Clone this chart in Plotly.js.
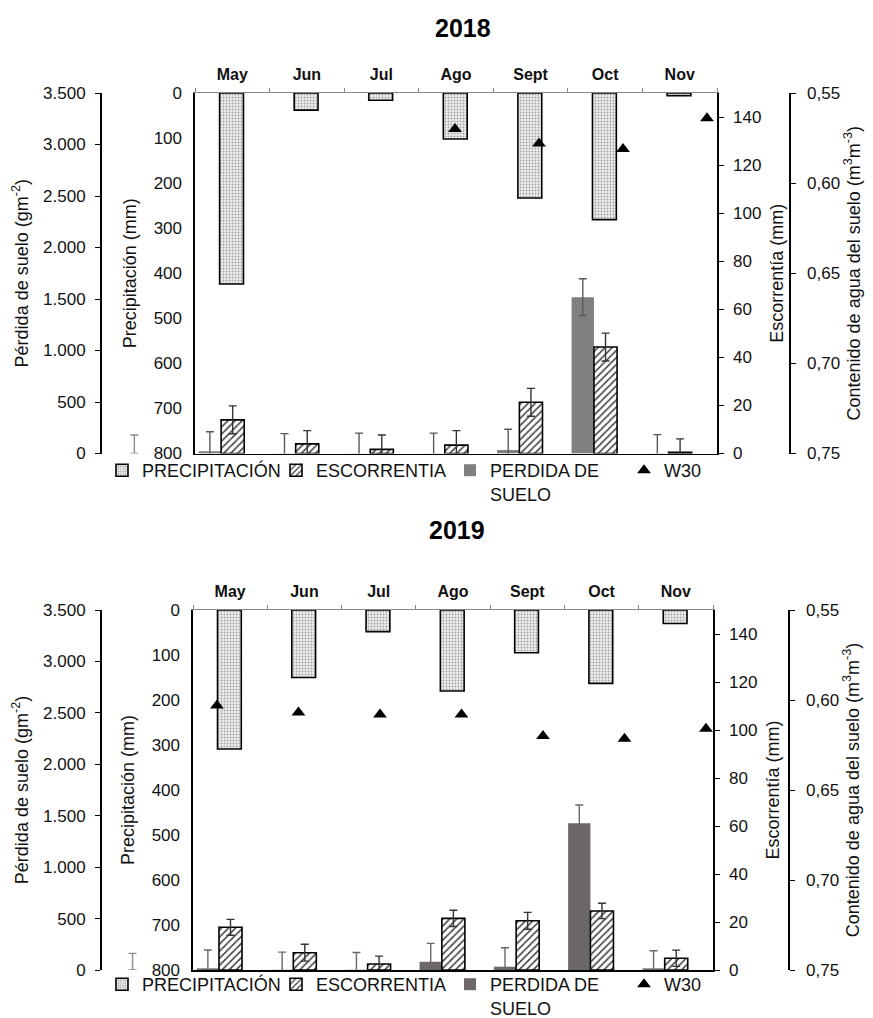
<!DOCTYPE html>
<html><head><meta charset="utf-8">
<script src="https://cdn.plot.ly/plotly-3.0.1.min.js"></script>
<style>html,body{margin:0;padding:0;background:#fff}#chart{width:873px;height:1018px}</style>
</head><body><div id="chart"></div>
<script>
// ---------- DATA ----------
const months = ['May', 'Jun', 'Jul', 'Ago', 'Sept', 'Oct', 'Nov'];
const monthIdx = [0, 1, 2, 3, 4, 5, 6];

// 2018
const precip2018 = [424, 38, 16, 102, 233, 281, 6];          // mm
const runoff2018 = [14.0, 4.0, 1.7, 3.5, 21.3, 44.3, 0.5];   // mm
const runoffErr2018 = [5.8, 5.5, 6.0, 6.0, 5.8, 5.8, 5.6];
const soilLoss2018 = [21, 3, 2, 2, 34, 1518, 3];            // g m-2
const soilLossErr2018 = [190, 190, 196, 196, 201, 178, 180];
const w30_2018 = [null, null, null, 0.570, 0.578, 0.581, 0.564];
const strayErr2018 = 180;   // lone soil-loss error bar one category before May

// 2019
const precip2019 = [309, 150, 48, 180, 95, 163, 30];
const runoff2019 = [17.8, 7.2, 2.5, 21.5, 20.5, 24.6, 4.9];
const runoffErr2019 = [3.3, 3.5, 3.3, 3.4, 3.5, 3.2, 3.4];
const soilLoss2019 = [16, 2, 2, 80, 32, 1426, 16];
const soilLossErr2019 = [178, 172, 168, 179, 185, 178, 171];
const w30_2019 = [0.603, 0.607, 0.608, 0.608, 0.620, 0.6215, 0.616];
const strayErr2019 = 162;

const names = ['PRECIPITACIÓN', 'ESCORRENTIA', 'PERDIDA DE<br>SUELO', 'W30'];

// ---------- STYLE / LAYOUT HELPERS ----------
const W = 873, H = 1018;
const px = v => v / W, py = v => 1 - v / H;
const FONT = 'Liberation Sans, Arial, sans-serif';
const BAR = {precipOff: -0.17, precipW: 0.32, runOff: -0.15, runW: 0.31, lossOff: -0.45, lossW: 0.30};

const cfgs = [
  {year: '2018', top: 93, bottom: 453.5, left: 195, right: 717, lossX: 100, waterX: 789,
   w30Range: [-0.095, 6.119], legendY: 452, titleY: 28, titleX: 463, lossColor: '#808080', lossErrColor: '#5a5a5a',
   precip: precip2018, runoff: runoff2018, runoffErr: runoffErr2018, loss: soilLoss2018,
   lossErr: soilLossErr2018, w30: w30_2018, stray: strayErr2018},
  {year: '2019', top: 610, bottom: 970, left: 193, right: 713, lossX: 100, waterX: 788,
   w30Range: [-0.294, 6.086], legendY: 966, titleY: 530, titleX: 457, lossColor: '#6e6769', lossErrColor: '#6e6769',
   precip: precip2019, runoff: runoff2019, runoffErr: runoffErr2019, loss: soilLoss2019,
   lossErr: soilLossErr2019, w30: w30_2019, stray: strayErr2019}
];

const data = [];
const layout = {
  width: W, height: H,
  margin: {l: 0, r: 0, t: 0, b: 0, autoexpand: false},
  paper_bgcolor: '#fff', plot_bgcolor: 'rgba(0,0,0,0)',
  separators: ',.',
  font: {family: FONT, size: 17, color: '#111'},
  showlegend: true,
  annotations: []
};

cfgs.forEach((c, k) => {
  const n = k * 2;
  const m = k * 4;
  const xa = 'x' + (n === 0 ? '' : n + 1), xb = 'x' + (n + 2);
  const ya = 'y' + (m === 0 ? '' : m + 1), yb = 'y' + (m + 2), yc = 'y' + (m + 3), yd = 'y' + (m + 4);
  const xs = 'x' + (5 + k), ys = 'y' + (9 + k);   // strip left of the frame (stray error bar)
  const axKey = s => s.replace('x', 'xaxis').replace('y', 'yaxis');
  const legendName = k === 0 ? 'legend' : 'legend2';
  const xDom = [px(c.left), px(c.right)];
  const yDom = [py(c.bottom), py(c.top)];
  const catW = (c.right - c.left) / 7;   // px per category

  layout[axKey(xa)] = {
    domain: xDom, anchor: ya, side: 'top', range: [-0.5, 6.5], type: 'linear',
    tickmode: 'array', tickvals: monthIdx, ticktext: months, ticks: '',
    tickfont: {size: 16, family: FONT, color: '#111', weight: 'bold'},
    ticklabelstandoff: 6,
    minor: {tick0: -0.5, dtick: 1, ticks: 'outside', ticklen: 4, tickcolor: '#888', tickwidth: 1},
    showline: true, linecolor: '#888', linewidth: 1, showgrid: false, zeroline: false
  };
  layout[axKey(xb)] = {
    overlaying: xa, anchor: ya, side: 'bottom', range: c.w30Range, type: 'linear',
    showticklabels: false, ticks: '', showline: true, linecolor: '#000', linewidth: 1.6,
    showgrid: false, zeroline: false
  };
  // same category scale continued to the left of the frame
  layout[axKey(xs)] = {
    domain: [px(c.lossX + 2), px(c.left - 1)], anchor: ys, type: 'linear',
    range: [-0.5 - (c.left - 1 - c.lossX - 2) / catW, -0.5], visible: false
  };
  layout[axKey(ys)] = {
    domain: yDom, anchor: xs, range: [0, 3500], visible: false
  };
  layout[axKey(ya)] = {
    domain: yDom, anchor: xa, side: 'left', range: [800, 0], dtick: 100, tick0: 0,
    ticks: '', ticklabelstandoff: 8, showline: true, linecolor: '#000', linewidth: 1.6,
    showgrid: false, zeroline: false, tickfont: {size: 17},
    title: {text: 'Precipitación (mm)', font: {size: 18}, standoff: 12}
  };
  layout[axKey(yb)] = {
    overlaying: ya, anchor: 'free', position: px(c.lossX), side: 'left', range: [0, 3500], dtick: 500,
    tickformat: ',', ticks: 'outside', ticklen: 5, tickcolor: '#000', ticklabelstandoff: 6,
    showline: true, linecolor: '#000', linewidth: 1.6, showgrid: false, zeroline: false, tickfont: {size: 17},
    title: {text: 'Pérdida de suelo (gm<sup>-2</sup>)', font: {size: 18}, standoff: 8}
  };
  layout[axKey(yc)] = {
    overlaying: ya, anchor: xa, side: 'right', range: [0, 150], dtick: 20,
    ticks: 'outside', ticklen: 5, tickcolor: '#000', ticklabelstandoff: 6,
    showline: true, linecolor: '#000', linewidth: 1.6, showgrid: false, zeroline: false, tickfont: {size: 17},
    title: {text: 'Escorrentía (mm)', font: {size: 18}, standoff: 10}
  };
  layout[axKey(yd)] = {
    overlaying: ya, anchor: 'free', position: px(c.waterX), side: 'right', range: [0.75, 0.55], dtick: 0.05,
    tick0: 0.55, tickformat: '.2f', ticks: 'outside', ticklen: 5, tickcolor: '#000', ticklabelstandoff: 8,
    showline: true, linecolor: '#000', linewidth: 1.6, showgrid: false, zeroline: false, tickfont: {size: 17},
    title: {text: 'Contenido de agua del suelo (m<sup>3</sup>m<sup>-3</sup>)', font: {size: 18}, standoff: 8}
  };

  layout[legendName] = {
    x: px(102), y: py(c.legendY), xanchor: 'left', yanchor: 'top', orientation: 'h',
    entrywidth: 129, entrywidthmode: 'pixels', itemwidth: 30, valign: 'top',
    bgcolor: 'rgba(0,0,0,0)', font: {size: 18, family: FONT, color: '#111'}, traceorder: 'normal'
  };

  layout.annotations.push({
    text: '<b>' + c.year + '</b>', xref: 'paper', yref: 'paper', x: px(c.titleX), y: py(c.titleY),
    xanchor: 'center', yanchor: 'middle', showarrow: false, font: {size: 25, family: FONT, color: '#000'}
  });

  data.push({
    type: 'bar', name: names[0], legend: legendName, x: monthIdx, y: c.precip, xaxis: xa, yaxis: ya,
    offset: BAR.precipOff, width: BAR.precipW,
    marker: {color: '#eeeeee', line: {color: '#000', width: 1.6},
      pattern: {shape: '.', size: 3, solidity: 0.3, fgcolor: '#a0a0a0', bgcolor: '#eeeeee'}},
    hoverinfo: 'skip'
  });
  data.push({
    type: 'bar', name: names[1], legend: legendName, x: monthIdx, y: c.runoff, xaxis: xa, yaxis: yc,
    offset: BAR.runOff, width: BAR.runW,
    marker: {color: '#fff', line: {color: '#000', width: 1.6},
      pattern: {shape: '/', size: 5, solidity: 0.32, fgcolor: '#444', bgcolor: '#fff'}},
    error_y: {type: 'data', array: c.runoffErr, visible: true, color: '#333', thickness: 1.4, width: 4},
    hoverinfo: 'skip'
  });
  data.push({
    type: 'bar', name: names[2], legend: legendName, x: monthIdx, y: c.loss, xaxis: xa, yaxis: yb,
    offset: BAR.lossOff, width: BAR.lossW,
    marker: {color: c.lossColor, line: {width: 0}},
    error_y: {type: 'data', array: c.lossErr, visible: true, color: c.lossErrColor, thickness: 1.4, width: 4},
    hoverinfo: 'skip'
  });
  data.push({
    type: 'scatter', mode: 'markers', showlegend: false, legend: legendName,
    x: [-1 + BAR.lossOff + BAR.lossW / 2], y: [0], xaxis: xs, yaxis: ys, cliponaxis: false,
    marker: {size: 1, opacity: 0},
    error_y: {type: 'data', symmetric: false, array: [c.stray], arrayminus: [0], color: '#8a8a8a', thickness: 1.4, width: 4},
    hoverinfo: 'skip'
  });
  data.push({
    type: 'scatter', mode: 'markers', name: names[3], legend: legendName,
    x: monthIdx, y: c.w30, xaxis: xb, yaxis: yd, cliponaxis: false,
    marker: {symbol: 'triangle-up', size: 12, color: '#000'},
    hoverinfo: 'skip'
  });
});

Plotly.newPlot('chart', data, layout, {staticPlot: true, displayModeBar: false});
</script>
</body></html>
